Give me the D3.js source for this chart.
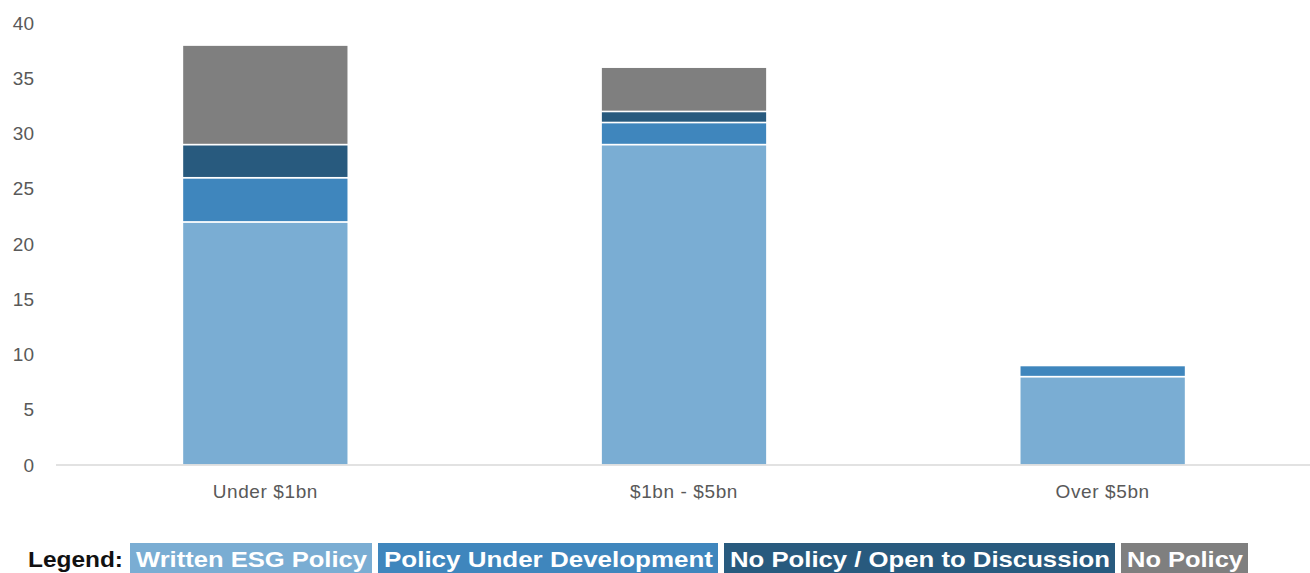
<!DOCTYPE html>
<html>
<head>
<meta charset="utf-8">
<script src="https://cdn.jsdelivr.net/npm/d3@7"></script>
<style>
  body { margin: 0; background: #fff; }
  svg { display: block; }
</style>
</head>
<body>
<svg id="chart"></svg>
<script>
// Chart data
const categories = ["Under $1bn", "$1bn - $5bn", "Over $5bn"];
const seriesNames = ["Written ESG Policy", "Policy Under Development", "No Policy / Open to Discussion", "No Policy"];
const writtenPolicy = [22, 29, 8];
const underDevelopment = [4, 2, 1];
const openToDiscussion = [3, 1, 0];
const noPolicy = [9, 4, 0];
const yTicks = [0, 5, 10, 15, 20, 25, 30, 35, 40];

const colors = ["#7aadd3", "#3f86bd", "#285a7e", "#7f7f7f"];

const width = 1310, height = 573;
const margin = { top: 23, right: 0, bottom: 108, left: 56 };

const svg = d3.select("#chart").attr("width", width).attr("height", height);

// build rows for the stack
const rows = categories.map((c, i) => ({
  category: c,
  [seriesNames[0]]: writtenPolicy[i],
  [seriesNames[1]]: underDevelopment[i],
  [seriesNames[2]]: openToDiscussion[i],
  [seriesNames[3]]: noPolicy[i]
}));
const stacked = d3.stack().keys(seriesNames)(rows);

const x = d3.scaleBand()
  .domain(categories)
  .range([margin.left, width + 2])
  .paddingInner(0.604)
  .paddingOuter(0.302);

const y = d3.scaleLinear()
  .domain([0, 40])
  .range([height - margin.bottom, margin.top]);

const labelFont = "'Liberation Sans', Arial, sans-serif";

// y axis labels (no line)
const yAxis = svg.append("g")
  .attr("transform", `translate(${34},0)`)
  .call(d3.axisLeft(y).tickValues(yTicks).tickSize(0).tickPadding(0));
yAxis.select(".domain").remove();
yAxis.selectAll("text")
  .style("font-family", labelFont)
  .style("font-size", "19px")
  .style("fill", "#595959");

// bars
svg.append("g")
  .selectAll("g")
  .data(stacked)
  .join("g")
  .attr("fill", (d, i) => colors[i])
  .selectAll("rect")
  .data(d => d.filter(s => s[1] - s[0] > 0))
  .join("rect")
  .attr("x", d => x(d.data.category))
  .attr("y", d => y(d[1]))
  .attr("width", x.bandwidth())
  .attr("height", d => y(d[0]) - y(d[1]))
  .attr("stroke", "#ffffff")
  .attr("stroke-width", 1.5);

// x axis baseline + labels
const xAxis = svg.append("g")
  .attr("transform", `translate(0,${y(0)})`)
  .call(d3.axisBottom(x).tickSize(0).tickPadding(20));
xAxis.select(".domain")
  .attr("stroke", "#d9d9d9")
  .attr("stroke-width", 1.3)
  .attr("d", `M${margin.left},0H${width}`);
xAxis.selectAll("text")
  .style("font-family", labelFont)
  .style("font-size", "19px")
  .style("letter-spacing", "0.6px")
  .style("fill", "#595959");

// legend
const legend = svg.append("g");
legend.append("text")
  .attr("x", 28)
  .attr("y", 567)
  .attr("textLength", 95)
  .attr("lengthAdjust", "spacingAndGlyphs")
  .style("font-family", labelFont)
  .style("font-weight", "bold")
  .style("font-size", "22px")
  .style("fill", "#111")
  .text("Legend:");

const boxes = [
  { x0: 130, x1: 372 },
  { x0: 378, x1: 718 },
  { x0: 724, x1: 1115 },
  { x0: 1121, x1: 1248 }
];
seriesNames.forEach((name, i) => {
  const b = boxes[i];
  legend.append("rect")
    .attr("x", b.x0)
    .attr("y", 543)
    .attr("width", b.x1 - b.x0)
    .attr("height", 32)
    .attr("fill", colors[i]);
  legend.append("text")
    .attr("x", b.x0 + 6)
    .attr("y", 567)
    .attr("textLength", b.x1 - b.x0 - 11)
    .attr("lengthAdjust", "spacingAndGlyphs")
    .style("font-family", labelFont)
    .style("font-weight", "bold")
    .style("font-size", "22px")
    .style("fill", "#fff")
    .text(name);
});
</script>
</body>
</html>
